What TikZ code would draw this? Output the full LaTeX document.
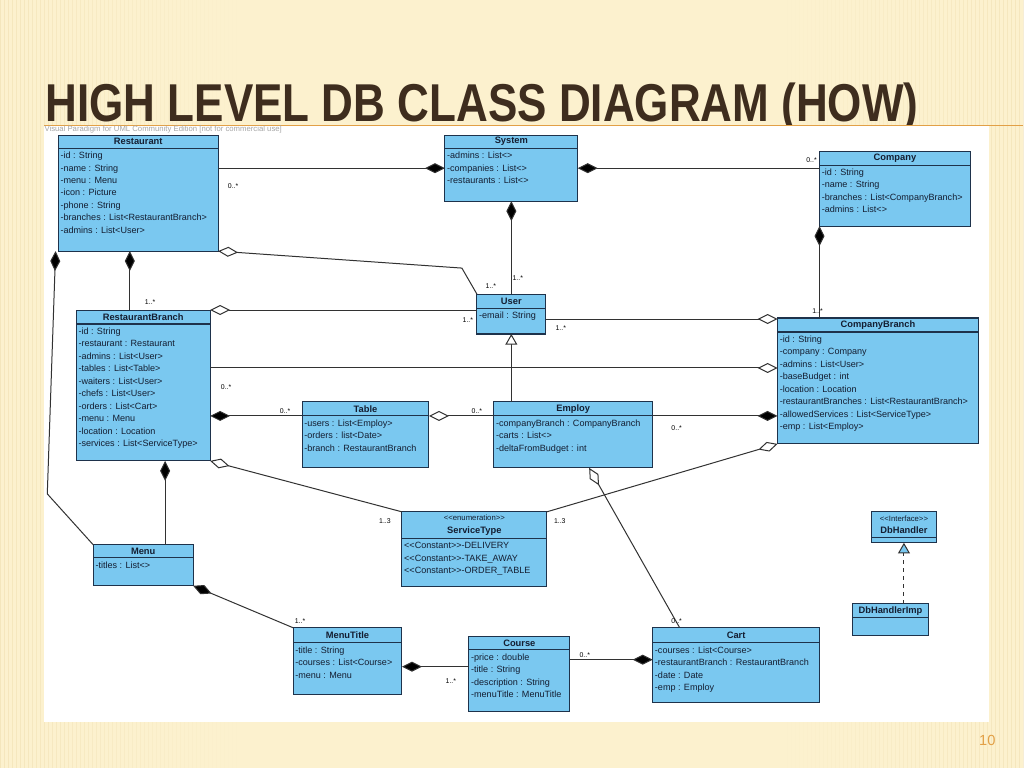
\documentclass[tikz,border=0pt]{standalone}
\usepackage{fontspec}
\usepackage{graphicx}
\setmainfont{Liberation Sans}
\usetikzlibrary{arrows.meta,calc,positioning}

\definecolor{slidebg}{RGB}{252,241,206}
\definecolor{stripe}{RGB}{238,220,172}
\definecolor{titlebrown}{RGB}{62,45,30}
\definecolor{accent}{RGB}{226,160,70}
\definecolor{clsfill}{RGB}{122,200,240}
\definecolor{clsline}{RGB}{30,50,75}
\definecolor{clstext}{RGB}{20,30,50}
\definecolor{linkgray}{RGB}{50,50,50}

\tikzset{
	cls/.style={draw=clsline, fill=clsfill, line width=0.8pt, anchor=north west, inner sep=0pt, outer sep=0pt},
	hd/.style={font=\fontsize{7}{9.5}\selectfont\bfseries, text=clstext, align=center, inner sep=0pt},
	attr/.style={font=\fontsize{6.8}{9.375}\selectfont, text=clstext, align=left, anchor=north west, inner sep=0pt},
	mult/.style={font=\fontsize{5.2}{6}\selectfont, text=black, inner sep=0pt},
	link/.style={draw=linkgray, line width=0.75pt},
	composite/.style={link, -{Diamond[fill=black, length=15pt, width=7.5pt]}},
	shared/.style={link, -{Diamond[fill=white, length=15pt, width=7.5pt]}},
	inherit/.style={link, -{Triangle[fill=white, length=8pt, width=9pt]}},
	realize/.style={link, dashed, -{Triangle[fill=clsfill, length=8pt, width=9pt]}},
}

% name, x, y, width, height, header height, title, attributes
\newcommand{\umlclass}[8]{%
	\node[cls, minimum width=#4*0.75pt, minimum height=#5*0.75pt] (#1) at (#2,#3) {};
	\draw[clsline, line width=0.8pt] ($(#1.north west)+(0,#6)$) -- ($(#1.north east)+(0,#6)$);
	\node[hd] (#1-hd) at ($(#1.north)+(0,#6/2)$) {#7};
	\node[attr] (#1-at) at ($(#1.north west)+(2,#6+3.5)$) {#8};
}
\newcommand{\stereo}[1]{{\mdseries\fontsize{5.8}{7}\selectfont <{}<#1>{}>}}
\newcommand{\const}{<{}<Constant>{}>}

\begin{document}
\begin{tikzpicture}[x=0.75pt,y=0.75pt,yscale=-1,xscale=1]
	% slide
	\fill[slidebg] (0,0) rectangle (1024,768);
	\foreach \i [evaluate=\i as \op using 0.5*(1-\i/240)] in {0,4,...,236} {
		\draw[stripe, line width=0.5pt, opacity=\op] (\i,0) -- (\i,768);
		\draw[stripe, line width=0.5pt, opacity=\op] (1024-\i,0) -- (1024-\i,768);
	}
	\node[anchor=base west, inner sep=0pt, text depth=0pt, text=titlebrown, font=\fontsize{40}{40}\selectfont\bfseries] (title) at (45,121) {\scalebox{0.826}[1]{HIGH LEVEL DB CLASS DIAGRAM (HOW)}};
	\draw[accent, line width=1pt] (44,125) -- (1024,125);
	\fill[white] (44,126) rectangle (990,722);
	\node[anchor=west, inner sep=0pt, text height=3.2pt, text depth=0.6pt, text=gray!70, font=\fontsize{5.8}{6}\selectfont] (vp) at (44,130) {Visual Paradigm for UML Community Edition [not for commercial use]};
	\node[text=accent, font=\fontsize{11}{12}\selectfont] (pg) at (988,741) {10};

	% classes
	\umlclass{rest}{58}{135}{160}{116}{13}{Restaurant}{-id : String\\-name : String\\-menu : Menu\\-icon : Picture\\-phone : String\\-branches : List<RestaurantBranch>\\-admins : List<User>}
	\umlclass{sys}{445}{135}{133}{66}{13}{System}{-admins : List<>\\-companies : List<>\\-restaurants : List<>}
	\umlclass{company}{820}{151}{151}{75}{14}{Company}{-id : String\\-name : String\\-branches : List<CompanyBranch>\\-admins : List<>}
	\umlclass{rbranch}{76}{310}{134}{151}{14}{RestaurantBranch}{-id : String\\-restaurant : Restaurant\\-admins : List<User>\\-tables : List<Table>\\-waiters : List<User>\\-chefs : List<User>\\-orders : List<Cart>\\-menu : Menu\\-location : Location\\-services : List<ServiceType>}
	\umlclass{user}{477}{294}{69}{40}{14}{User}{-email : String}
	\umlclass{cbranch}{778}{318}{201}{126}{14}{CompanyBranch}{-id : String\\-company : Company\\-admins : List<User>\\-baseBudget : int\\-location : Location\\-restaurantBranches : List<RestaurantBranch>\\-allowedServices : List<ServiceType>\\-emp : List<Employ>}
	\umlclass{tbl}{302}{402}{127}{66}{14}{Table}{-users : List<Employ>\\-orders : list<Date>\\-branch : RestaurantBranch}
	\umlclass{emp}{494}{402}{159}{66}{14}{Employ}{-companyBranch : CompanyBranch\\-carts : List<>\\-deltaFromBudget : int}
	\umlclass{stype}{402}{512}{145}{75}{27}{\stereo{enumeration}\\ServiceType}{\const-DELIVERY\\\const-TAKE\_AWAY\\\const-ORDER\_TABLE}
	\umlclass{dbh}{872}{512}{65}{31}{26}{\stereo{Interface}\\DbHandler}{}
	\umlclass{dbimp}{853}{604}{76}{32}{14}{DbHandlerImp}{}
	\umlclass{menu}{93}{545}{100}{41}{13}{Menu}{-titles : List<>}
	\umlclass{mtitle}{293}{628}{109}{67}{15}{MenuTitle}{-title : String\\-courses : List<Course>\\-menu : Menu}
	\umlclass{course}{469}{637}{101}{75}{13}{Course}{-price : double\\-title : String\\-description : String\\-menuTitle : MenuTitle}
	\umlclass{cart}{653}{628}{167}{75}{15}{Cart}{-courses : List<Course>\\-restaurantBranch : RestaurantBranch\\-date : Date\\-emp : Employ}

	% associations
	\draw[composite] (sys.west -| rest.east) -- (sys.west);
	\node[mult] (m1) at (233,186) {0..*};
	\draw[composite] (sys.east -| company.west) -- (sys.east);
	\node[mult] (m2) at (812,160) {0..*};
	\draw[composite] (user.north) -- (sys.south);
	\node[mult] (m3) at (518,278) {1..*};
	\coordinate (k1) at (462,268);
	\draw[shared] (user.north west) -- (k1) -- (rest.south east);
	\node[mult] (m4) at (491,286) {1..*};
	\coordinate (k2) at ($(rbranch.north west)!0.4!(rbranch.north east)$);
	\draw[composite] (k2) -- (k2 |- rest.south);
	\node[mult] (m5) at (150,302) {1..*};
	\coordinate (k3) at (47,494);
	\draw[composite] (menu.north west) -- (k3) -- ([xshift=-2pt]rest.south west);
	\draw[shared] (user.west |- rbranch.north east) -- (rbranch.north east);
	\node[mult] (m6) at (468,320) {1..*};
	\coordinate (k4) at ($(rbranch.south west)!0.664!(rbranch.south east)$);
	\draw[composite] (k4 |- menu.north) -- (k4);
	\coordinate (k5) at ($(cbranch.north west)+(0,1)$);
	\draw[shared] (user.east |- k5) -- (k5);
	\node[mult] (m7) at (561,328) {1..*};
	\coordinate (k6) at ($(cbranch.north west)+(0,50)$);
	\draw[shared] (rbranch.east |- k6) -- (k6);
	\node[mult] (m8) at (226,387) {0..*};
	\coordinate (k7) at ($(tbl.north west)+(0,14)$);
	\draw[composite] (k7) -- (rbranch.east |- k7);
	\node[mult] (m9) at (285,411) {0..*};
	\coordinate (k8) at ($(emp.north west)+(0,14)$);
	\draw[shared] (k8) -- (tbl.east |- k8);
	\node[mult] (m10) at (477,411) {0..*};
	\draw[composite] (emp.east |- k8) -- (cbranch.west |- k8);
	\node[mult] (m11) at (677,428) {0..*};
	\draw[inherit] (user.south |- emp.north) -- (user.south);
	\draw[composite] (cbranch.north -| company.south west) -- (company.south west);
	\node[mult] (m12) at (818,311) {1..*};
	\draw[shared] (stype.north west) -- (rbranch.south east);
	\node[mult] (m13) at (385,521) {1..3};
	\draw[shared] (stype.north east) -- (cbranch.south west);
	\node[mult] (m14) at (560,521) {1..3};
	\coordinate (k9) at ($(emp.south west)!0.6!(emp.south east)$);
	\coordinate (k10) at ($(cart.north west)+(27,0)$);
	\draw[shared] (k10) -- (k9);
	\node[mult] (m15) at (677,621) {0..*};
	\draw[composite] (mtitle.north west) -- (menu.south east);
	\node[mult] (m16) at (300,621) {1..*};
	\coordinate (k11) at ($(mtitle.north east)+(0,39)$);
	\draw[composite] (course.west |- k11) -- (k11);
	\node[mult] (m17) at (451,681) {1..*};
	\coordinate (k12) at ($(course.north east)+(0,23)$);
	\draw[composite] (k12) -- (cart.west |- k12);
	\node[mult] (m18) at (585,655) {0..*};
	\draw[realize] (dbh.south |- dbimp.north) -- (dbh.south);
\end{tikzpicture}
\end{document}
